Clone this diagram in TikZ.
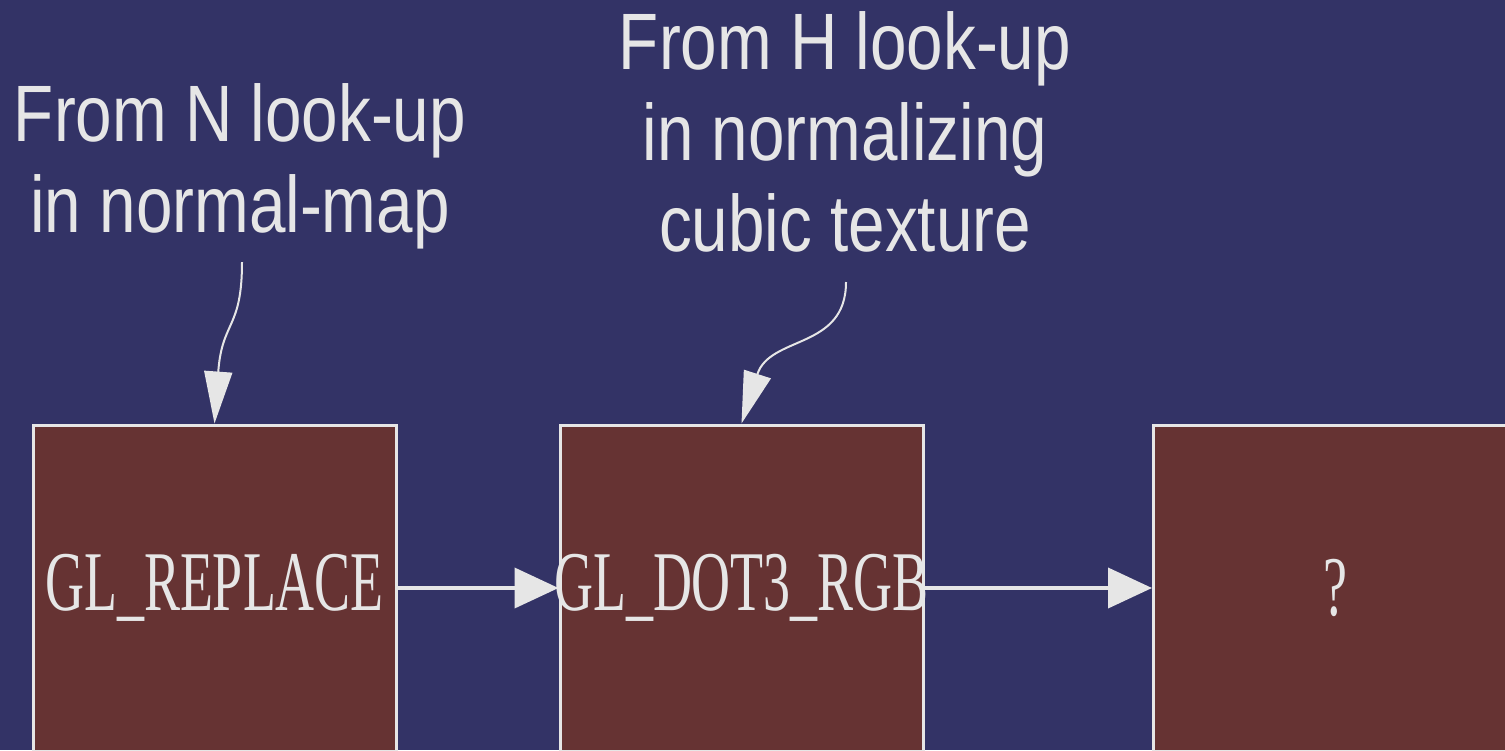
\documentclass[tikz,border=0pt]{standalone}
\usepackage{fontspec}
\usetikzlibrary{arrows.meta}
\newfontfamily\labfont[FakeStretch=0.82]{Liberation Sans}
\newfontfamily\boxfont[FakeStretch=0.635]{Liberation Serif}
\definecolor{bg}{HTML}{333366}
\definecolor{boxc}{HTML}{663333}
\definecolor{fg}{HTML}{E6E6E6}
\begin{document}
\begin{tikzpicture}[x=1pt,y=-1pt,
 stage/.style={draw=fg, fill=boxc, line width=3pt, minimum width=363pt, minimum height=326pt, inner sep=0pt, text=fg, font=\boxfont\fontsize{85}{90}\selectfont},
 lab/.style={text=fg, align=center, inner sep=0pt, font=\labfont\fontsize{80}{91}\selectfont},
 flow/.style={draw=fg, line width=4pt, -{Triangle[length=44pt,width=40pt]}},
 note/.style={draw=fg, line width=2pt, -{Triangle[length=52pt,width=28pt]}}]
\fill[bg] (0,0) rectangle (1505,750);
\useasboundingbox (0,0) rectangle (1505,750);
\clip (0,0) rectangle (1505,750);
\node[stage] (b1) at (214.5,588) {\makebox[360pt]{GL\_REPLACE}};
\node[stage] (b2) at (741.5,588) {\makebox[360pt]{GL\_DOT3\_RGB}};
\node[stage] (b3) at (1335,588) {\makebox[360pt]{?}};
\node[lab, anchor=base] (l1) at (240,232) {From N look-up\\in normal-map};
\node[lab, anchor=base] (l2) at (845,251) {From H look-up\\in normalizing\\cubic texture};
\coordinate (s1) at (242,262);
\coordinate (s2) at (846,282);
\draw[flow] (b1) -- (b2);
\draw[flow] (b2) -- (b3);
\draw[note] (s1) .. controls (242,330) and (222,320) .. (b1.north);
\draw[note] (s2) .. controls (846,350) and (770,335) .. (b2.north);
\end{tikzpicture}
\end{document}
